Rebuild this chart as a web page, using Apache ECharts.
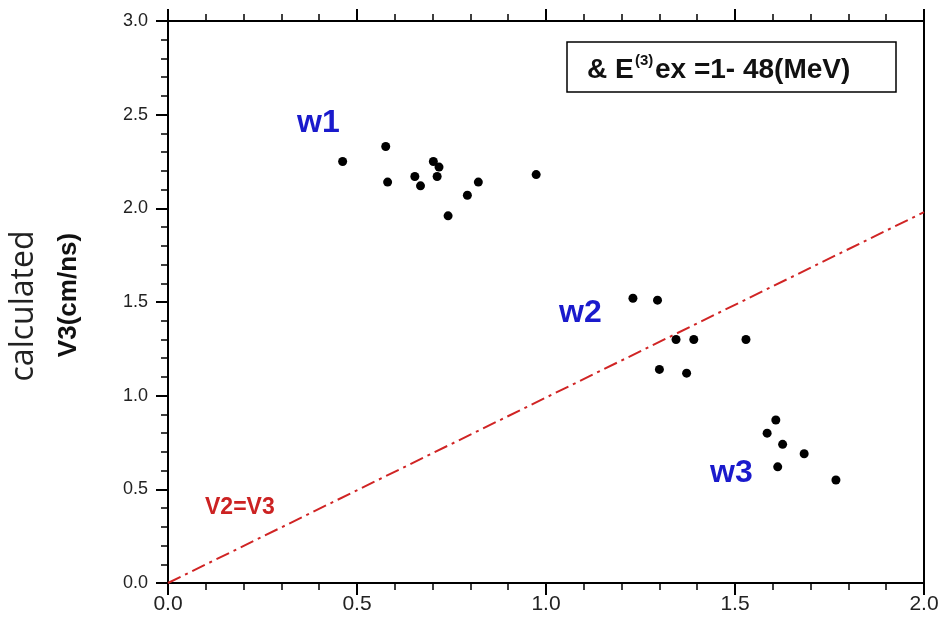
<!DOCTYPE html>
<html>
<head>
<meta charset="utf-8">
<script src="https://cdn.jsdelivr.net/npm/echarts@6/dist/echarts.min.js"></script>
<style>html,body{margin:0;padding:0;background:#fff}#c{width:942px;height:628px}</style>
</head>
<body>
<div id="c"></div>
<script>
// data (V2 in cm/ns on x, calculated V3 in cm/ns on y)
const w1X = [0.462, 0.576, 0.581, 0.653, 0.668, 0.702, 0.717, 0.712, 0.741, 0.792, 0.821, 0.974];
const w1Y = [2.25, 2.33, 2.14, 2.17, 2.12, 2.25, 2.22, 2.17, 1.96, 2.07, 2.14, 2.18];
const w2X = [1.230, 1.295, 1.344, 1.391, 1.529, 1.300, 1.372];
const w2Y = [1.52, 1.51, 1.30, 1.30, 1.30, 1.14, 1.12];
const w3X = [1.608, 1.585, 1.626, 1.683, 1.613, 1.767];
const w3Y = [0.87, 0.80, 0.74, 0.69, 0.62, 0.55];
const eqX = [0.0, 2.0];
const eqY = [0.0, 1.98];
const xTicks = [0, 0.5, 1.0, 1.5, 2.0];
const yTicks = [0, 0.5, 1.0, 1.5, 2.0, 2.5, 3.0];

const pts = (xs, ys) => xs.map((x, i) => [x, ys[i]]);
const chart = echarts.init(document.getElementById('c'));
const axisLine = {show: true, onZero: false, lineStyle: {color: '#000', width: 2}};
const tickStyle = {show: true, inside: false, length: 12, lineStyle: {color: '#000', width: 2}};
const minorStyle = {show: true, splitNumber: 5, length: 7, lineStyle: {color: '#000', width: 1.5}};
const fam = 'Liberation Sans, Arial, sans-serif';
const grid = {left: 168, right: 18, top: 21, bottom: 45};
const dot = {symbolSize: 9, itemStyle: {color: '#000', opacity: 1}};
chart.setOption({
  animation: false,
  backgroundColor: '#fff',
  grid: grid,
  xAxis: [
    {type: 'value', min: xTicks[0], max: xTicks[xTicks.length - 1], interval: 0.5, position: 'bottom',
     axisLine: axisLine, axisTick: tickStyle, minorTick: minorStyle, splitLine: {show: false},
     axisLabel: {margin: 11, color: '#222', fontSize: 21, fontFamily: fam, formatter: v => v.toFixed(1)}},
    {type: 'value', min: 0, max: 2, interval: 0.5, position: 'top',
     axisLine: axisLine, axisTick: tickStyle, minorTick: minorStyle, splitLine: {show: false},
     axisLabel: {show: false}}
  ],
  yAxis: [
    {type: 'value', min: yTicks[0], max: yTicks[yTicks.length - 1], interval: 0.5, position: 'left',
     axisLine: axisLine, axisTick: tickStyle, minorTick: minorStyle, splitLine: {show: false},
     axisLabel: {margin: 20, color: '#222', fontSize: 18, fontFamily: fam, formatter: v => v.toFixed(1)}},
    {type: 'value', min: 0, max: 3, interval: 0.5, position: 'right',
     axisLine: axisLine, axisTick: {show: false}, splitLine: {show: false}, axisLabel: {show: false}}
  ],
  series: [
    {type: 'line', data: pts(eqX, eqY), symbol: 'none', silent: true,
     lineStyle: {color: '#d02424', width: 2, type: [14, 5, 3, 5]}},
    Object.assign({type: 'scatter', data: pts(w1X, w1Y)}, dot),
    Object.assign({type: 'scatter', data: pts(w2X, w2Y)}, dot),
    Object.assign({type: 'scatter', data: pts(w3X, w3Y)}, dot)
  ],
  graphic: [
    {type: 'text', x: 297, y: 123, style: {text: 'w1', fill: '#1a1acc', font: 'bold 32px ' + fam, verticalAlign: 'middle'}},
    {type: 'text', x: 559, y: 313, style: {text: 'w2', fill: '#1a1acc', font: 'bold 32px ' + fam, verticalAlign: 'middle'}},
    {type: 'text', x: 710, y: 473, style: {text: 'w3', fill: '#1a1acc', font: 'bold 32px ' + fam, verticalAlign: 'middle'}},
    {type: 'text', x: 205, y: 508, style: {text: 'V2=V3', fill: '#cc2222', font: 'bold 23px ' + fam, verticalAlign: 'middle'}},
    {type: 'rect', shape: {x: 567, y: 42, width: 329, height: 50}, style: {fill: '#fff', stroke: '#000', lineWidth: 1.5}},
    {type: 'text', x: 587, y: 70, style: {text: '& E', fill: '#111', font: 'bold 28px ' + fam, verticalAlign: 'middle'}},
    {type: 'text', x: 635, y: 61, style: {text: '(3)', fill: '#111', font: 'bold 15px ' + fam, verticalAlign: 'middle'}},
    {type: 'text', x: 655, y: 70, style: {text: 'ex =1- 48(MeV)', fill: '#111', font: 'bold 28px ' + fam, verticalAlign: 'middle'}},
    {type: 'text', x: 24, y: 306, rotation: Math.PI / 2, style: {text: 'calculated', fill: '#222', font: '32px Open Sans, Noto Sans, sans-serif', align: 'center', verticalAlign: 'middle'}},
    {type: 'text', x: 69, y: 295, rotation: Math.PI / 2, style: {text: 'V3(cm/ns)', fill: '#111', font: 'bold 26px ' + fam, align: 'center', verticalAlign: 'middle'}}
  ]
});
</script>
</body>
</html>
